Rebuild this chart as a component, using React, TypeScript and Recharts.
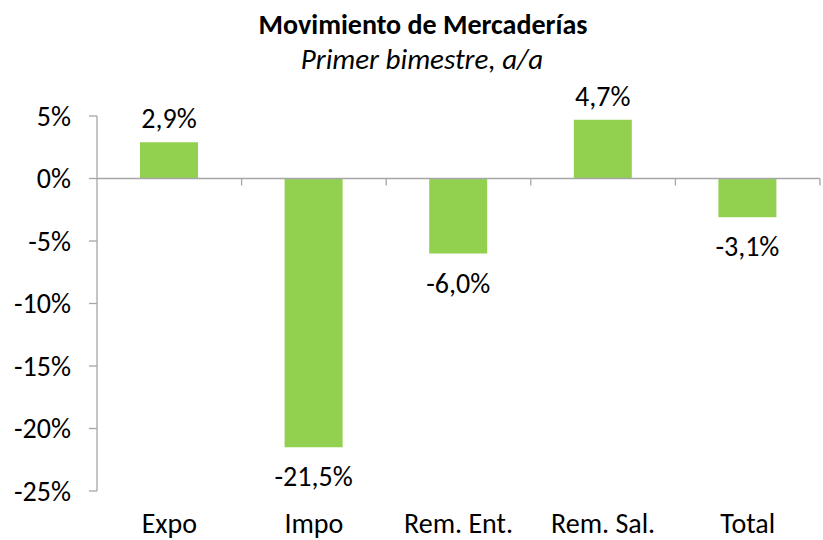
import { BarChart, Bar, XAxis, YAxis, ReferenceLine, LabelList } from 'recharts';

const categories = ['Expo', 'Impo', 'Rem. Ent.', 'Rem. Sal.', 'Total'];
const values = [2.9, -21.5, -6.0, 4.7, -3.1];
const yTicks = [-25, -20, -15, -10, -5, 0, 5];

const data = categories.map((name, i) => ({ name, value: values[i] }));

const fontFamily = 'Carlito, Calibri, Lato, sans-serif';
const axisColor = '#A6A6A6';
const barColor = '#92D050';

const pct = (v: number) => `${v.toFixed(1).replace('.', ',')}%`;

// zero line with small ticks hanging down at the category boundaries
function ZeroLine(props: any) {
  const { x1, x2, y1 } = props;
  const step = (x2 - x1) / categories.length;
  const ticks = Array.from({ length: categories.length }, (_, i) => x1 + step * (i + 1));
  return (
    <g>
      <line x1={x1} x2={x2} y1={y1} y2={y1} stroke={axisColor} strokeWidth={1.3} />
      {ticks.map((x) => (
        <line key={x} x1={x} x2={x} y1={y1} y2={y1 + 7} stroke={axisColor} strokeWidth={1.3} />
      ))}
    </g>
  );
}

// value label: above positive bars, below negative ones
function ValueLabel(props: any) {
  const { x, y, width, height, value } = props;
  const top = Math.min(y, y + height);
  const bottom = Math.max(y, y + height);
  const v = Number(value);
  const ty = v >= 0 ? top - 14 : bottom + 39;
  return (
    <text x={x + width / 2} y={ty} textAnchor="middle" fontSize={28} fill="#000" fontFamily={fontFamily}>
      {pct(v)}
    </text>
  );
}

export default function App() {
  return (
    <div style={{ position: 'absolute', left: 0, top: 0, width: 823, height: 540, background: '#fff' }}>
      <BarChart
        width={823}
        height={540}
        data={data}
        margin={{ top: 116, right: 3, left: 0, bottom: 0 }}
        style={{ position: 'absolute', left: 0, top: 0 }}
      >
        <XAxis
          dataKey="name"
          axisLine={false}
          tickLine={false}
          tickSize={0}
          tickMargin={22}
          height={49}
          interval={0}
          tick={{ fontSize: 28, fill: '#000', fontFamily }}
        />
        <YAxis
          domain={[-25, 5]}
          ticks={yTicks}
          interval={0}
          width={97}
          tickFormatter={(v: number) => `${v}%`}
          tick={{ fontSize: 28, fill: '#000', fontFamily }}
          tickSize={8}
          tickMargin={18}
          stroke={axisColor}
          axisLine={{ stroke: axisColor, strokeWidth: 1.3 }}
          tickLine={{ stroke: axisColor, strokeWidth: 1.3 }}
        />
        <Bar dataKey="value" fill={barColor} barSize={58} isAnimationActive={false}>
          <LabelList dataKey="value" content={<ValueLabel />} />
        </Bar>
        <ReferenceLine y={0} shape={<ZeroLine />} ifOverflow="visible" />
      </BarChart>
      <svg width={823} height={80} style={{ position: 'absolute', left: 0, top: 0 }}>
        <text x={423} y={34} textAnchor="middle" fontSize={28} fontWeight={700} fill="#000" fontFamily={fontFamily}>
          Movimiento de Mercaderías
        </text>
        <text x={422} y={69} textAnchor="middle" fontSize={29} fontStyle="italic" fill="#000" fontFamily={fontFamily}>
          Primer bimestre, a/a
        </text>
      </svg>
    </div>
  );
}
